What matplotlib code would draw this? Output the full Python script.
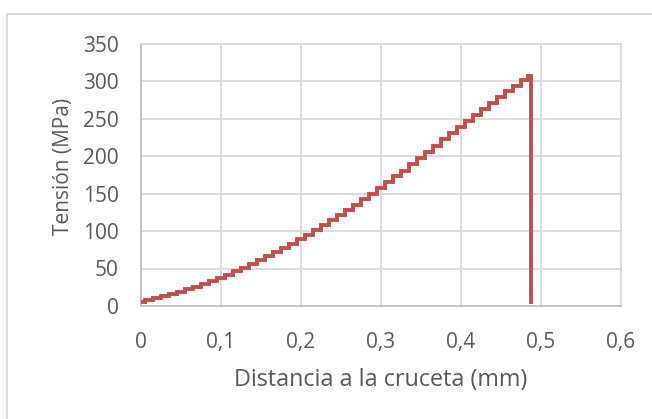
import matplotlib
matplotlib.use("Agg")
import matplotlib.pyplot as plt
from matplotlib.lines import Line2D

# Stress-displacement record of the tensile test (mm, MPa)
displacement = [0.00, 0.01, 0.02, 0.03, 0.04, 0.05, 0.06, 0.07, 0.08, 0.09,
                0.10, 0.11, 0.12, 0.13, 0.14, 0.15, 0.16, 0.17, 0.18, 0.19,
                0.20, 0.21, 0.22, 0.23, 0.24, 0.25, 0.26, 0.27, 0.28, 0.29,
                0.30, 0.31, 0.32, 0.33, 0.34, 0.35, 0.36, 0.37, 0.38, 0.39,
                0.40, 0.41, 0.42, 0.43, 0.44, 0.45, 0.46, 0.47, 0.48, 0.487,
                0.487]
stress = [5.0, 7.5, 10.2, 13.0, 16.0, 19.2, 22.5, 26.0, 29.6, 33.3,
          37.2, 41.7, 46.4, 51.2, 56.2, 61.3, 66.6, 72.0, 77.6, 83.3,
          89.2, 95.2, 101.4, 107.8, 114.4, 121.1, 128.0, 135.0, 142.2, 149.6,
          157.2, 164.9, 172.7, 180.6, 188.7, 196.9, 205.2, 213.6, 222.1, 230.6,
          239.2, 247.2, 255.1, 263.0, 270.9, 278.7, 286.4, 294.0, 301.3, 306.5,
          5.0]

x_ticks = [0.0, 0.1, 0.2, 0.3, 0.4, 0.5, 0.6]
x_tick_labels = ["0", "0,1", "0,2", "0,3", "0,4", "0,5", "0,6"]
y_ticks = [0, 50, 100, 150, 200, 250, 300, 350]
y_tick_labels = ["0", "50", "100", "150", "200", "250", "300", "350"]

x_title = "Distancia a la cruceta (mm)"
y_title = "Tensión (MPa)"

text_color = "#595959"
grid_color = "#D9D9D9"
line_color = "#C0504D"

plt.rcParams["font.family"] = ["Open Sans", "DejaVu Sans"]

W, H = 652, 419
fig = plt.figure(figsize=(W / 100, H / 100), dpi=100)
ax = fig.add_axes([141 / W, 1 - 306 / H, (621 - 141) / W, (306 - 43.5) / H])

ax.plot(displacement, stress, color=line_color, lw=2.8,
        drawstyle="steps-mid", solid_joinstyle="miter", zorder=3)

ax.set_xlim(0, 0.6)
ax.set_ylim(0, 350)
ax.set_xticks(x_ticks)
ax.set_xticklabels(x_tick_labels)
ax.set_yticks(y_ticks)
ax.set_yticklabels(y_tick_labels)
ax.tick_params(axis="both", length=0, labelsize=15, labelcolor=text_color)
ax.tick_params(axis="y", pad=16)
ax.tick_params(axis="x", pad=19)

ax.grid(True, color=grid_color, lw=1.3)
ax.set_axisbelow(True)
for side in ["top", "right"]:
    ax.spines[side].set_color(grid_color)
    ax.spines[side].set_linewidth(1.3)
for side in ["left", "bottom"]:
    ax.spines[side].set_color("#BFBFBF")
    ax.spines[side].set_linewidth(1.3)

# axis titles
fig.text(381 / W, 1 - 380 / H, x_title, fontsize=16.8, color=text_color,
         ha="center", va="center")
fig.text(63 / W, 1 - 166 / H, y_title, fontsize=15, color=text_color,
         ha="center", va="center", rotation=90)

# chart-area frame
fig.add_artist(Line2D([7 / W, 7 / W], [0, 1 - 14 / H], transform=fig.transFigure,
                      color=grid_color, lw=1.3))
fig.add_artist(Line2D([7 / W, 1], [1 - 14 / H, 1 - 14 / H], transform=fig.transFigure,
                      color=grid_color, lw=1.3))

fig.savefig("out.png", dpi=100, facecolor="white")
